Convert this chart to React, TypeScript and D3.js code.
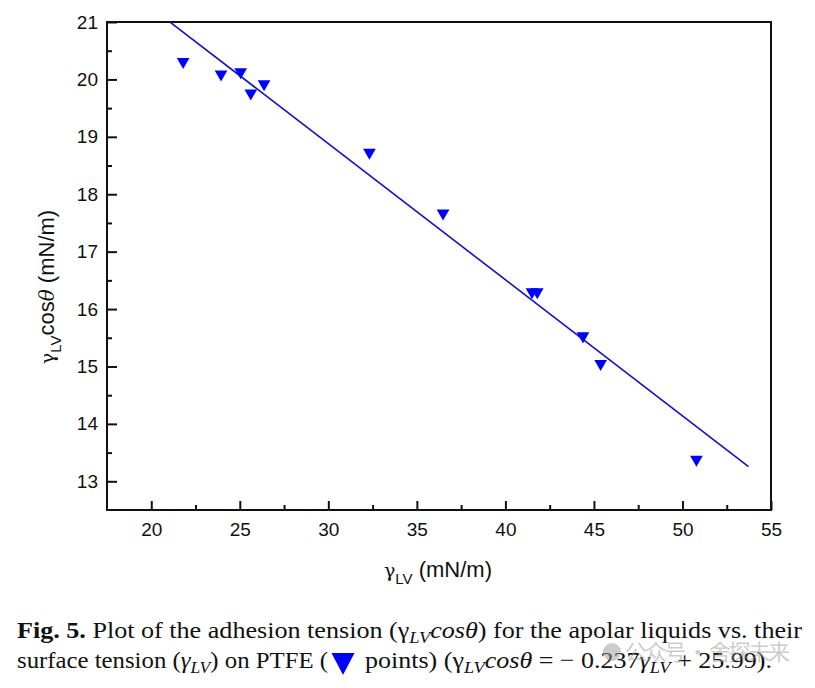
import { useEffect, useRef } from 'react';
import * as d3 from 'd3';

// surface tension of the apolar liquids (mN/m) and adhesion tension on PTFE
const gammaLV = [21.8, 23.94, 25.05, 25.62, 26.37, 32.32, 36.48, 41.5, 41.8, 44.38, 45.38, 50.79];
const adhesion = [20.31, 20.09, 20.13, 19.76, 19.92, 18.73, 17.67, 16.3, 16.3, 15.53, 15.05, 13.38];

// linear fit given in the caption
const fitSlope = -0.237;
const fitIntercept = 25.99;
const fitRange = [21.06, 53.73];

const xTicks = [20, 25, 30, 35, 40, 45, 50, 55];
const xMinorTicks = [22.5, 27.5, 32.5, 37.5, 42.5, 47.5, 52.5];
const yTicks = [13, 14, 15, 16, 17, 18, 19, 20, 21];
const yMinorTicks = [13.5, 14.5, 15.5, 16.5, 17.5, 18.5, 19.5, 20.5];

export default function App() {
  const svgRef = useRef<SVGSVGElement>(null);
  const width = 815;
  const height = 688;

  useEffect(() => {
    if (!svgRef.current) return;
    const svg = d3.select(svgRef.current);
    svg.selectAll('*').remove();

    const left = 107, right = 771, top = 22, bottom = 510;
    const axisFont = 'Liberation Sans, Arial, sans-serif';

    const x = d3.scaleLinear().domain([17.5, 55]).range([left, right]);
    const y = d3.scaleLinear().domain([12.5, 21]).range([bottom, top]);

    svg.append('rect').attr('width', width).attr('height', height).attr('fill', '#fff');

    // minor ticks
    const xMinorAxis = d3.axisBottom(x).tickValues(xMinorTicks).tickSize(-5).tickFormat(() => '');
    svg.append('g').attr('transform', `translate(0,${bottom})`).call(xMinorAxis)
      .call(g => g.select('.domain').remove())
      .selectAll('line').attr('stroke', '#111').attr('stroke-width', 2);

    const yMinorAxis = d3.axisLeft(y).tickValues(yMinorTicks).tickSize(-5).tickFormat(() => '');
    svg.append('g').attr('transform', `translate(${left},0)`).call(yMinorAxis)
      .call(g => g.select('.domain').remove())
      .selectAll('line').attr('stroke', '#111').attr('stroke-width', 2);

    // major ticks + labels
    const xAxis = d3.axisBottom(x).tickValues(xTicks).tickSize(-9).tickPadding(13).tickFormat(d => `${d}`);
    const gx = svg.append('g').attr('transform', `translate(0,${bottom})`).call(xAxis);
    gx.select('.domain').remove();
    gx.selectAll('line').attr('stroke', '#111').attr('stroke-width', 2);
    gx.selectAll('text').attr('font-family', axisFont).attr('font-size', 19).attr('fill', '#111');

    const yAxis = d3.axisLeft(y).tickValues(yTicks).tickSize(-10).tickPadding(9).tickFormat(d => `${d}`);
    const gy = svg.append('g').attr('transform', `translate(${left},0)`).call(yAxis);
    gy.select('.domain').remove();
    gy.selectAll('line').attr('stroke', '#111').attr('stroke-width', 2);
    gy.selectAll('text').attr('font-family', axisFont).attr('font-size', 19).attr('fill', '#111');

    // frame
    svg.append('rect')
      .attr('x', left).attr('y', top)
      .attr('width', right - left).attr('height', bottom - top)
      .attr('fill', 'none').attr('stroke', '#111').attr('stroke-width', 2);

    // fit line
    const fitData = fitRange.map(v => [v, fitSlope * v + fitIntercept] as [number, number]);
    svg.append('path')
      .datum(fitData)
      .attr('fill', 'none')
      .attr('stroke', '#1010d0')
      .attr('stroke-width', 1.6)
      .attr('d', d3.line<[number, number]>().x(d => x(d[0])).y(d => y(d[1])));

    // markers
    const tri = d3.symbol().type(d3.symbolTriangle).size(70);
    svg.append('g')
      .selectAll('path')
      .data(gammaLV.map((g, i) => [g, adhesion[i]]))
      .join('path')
      .attr('d', tri)
      .attr('transform', d => `translate(${x(d[0])},${y(d[1])}) rotate(180)`)
      .attr('fill', '#0000ff');

    // axis titles
    const xt = svg.append('text')
      .attr('x', 438).attr('y', 577)
      .attr('text-anchor', 'middle')
      .attr('font-family', axisFont).attr('font-size', 22).attr('fill', '#111');
    xt.append('tspan').attr('font-family', 'DejaVu Serif, serif').attr('font-size', 19).text('γ');
    xt.append('tspan').attr('font-size', 15).attr('dy', 7).text('LV');
    xt.append('tspan').attr('dy', -7).text(' (mN/m)');

    const yt = svg.append('text')
      .attr('transform', 'translate(54,287) rotate(-90)')
      .attr('text-anchor', 'middle')
      .attr('font-family', axisFont).attr('font-size', 22).attr('fill', '#111');
    yt.append('tspan').attr('font-family', 'DejaVu Serif, serif').attr('font-size', 19).text('γ');
    yt.append('tspan').attr('font-size', 15).attr('dy', 7).text('LV');
    yt.append('tspan').attr('dy', -7).text('cos');
    yt.append('tspan').attr('font-family', 'DejaVu Serif, serif').attr('font-style', 'italic').attr('font-size', 20).text('θ');
    yt.append('tspan').text(' (mN/m)');

    // caption
    const capFont = 'Liberation Serif, Times New Roman, serif';
    const cap = svg.append('g')
      .attr('font-family', capFont).attr('font-size', 24).attr('fill', '#111');

    const l1 = cap.append('text')
      .attr('x', 17).attr('y', 638)
      .attr('textLength', 785).attr('lengthAdjust', 'spacingAndGlyphs');
    l1.append('tspan').attr('font-weight', 'bold').text('Fig. 5.');
    l1.append('tspan').text(' Plot of the adhesion tension (γ');
    l1.append('tspan').attr('font-style', 'italic').attr('font-size', 17).attr('dy', 5).text('LV');
    l1.append('tspan').attr('font-style', 'italic').attr('dy', -5).text('cosθ');
    l1.append('tspan').text(') for the apolar liquids vs. their');

    const l2a = cap.append('text')
      .attr('x', 17).attr('y', 668)
      .attr('textLength', 311).attr('lengthAdjust', 'spacingAndGlyphs');
    l2a.append('tspan').text('surface tension (');
    l2a.append('tspan').attr('font-style', 'italic').text('γ');
    l2a.append('tspan').attr('font-style', 'italic').attr('font-size', 17).attr('dy', 5).text('LV');
    l2a.append('tspan').attr('dy', -5).text(') on PTFE (');

    const l2b = cap.append('text')
      .attr('x', 365).attr('y', 668)
      .attr('textLength', 407).attr('lengthAdjust', 'spacingAndGlyphs');
    l2b.append('tspan').text('points) (γ');
    l2b.append('tspan').attr('font-style', 'italic').attr('font-size', 17).attr('dy', 5).text('LV');
    l2b.append('tspan').attr('font-style', 'italic').attr('dy', -5).text('cosθ');
    l2b.append('tspan').text(' = − 0.237');
    l2b.append('tspan').attr('font-style', 'italic').text('γ');
    l2b.append('tspan').attr('font-style', 'italic').attr('font-size', 17).attr('dy', 5).text('LV');
    l2b.append('tspan').attr('dy', -5).text(' + 25.99).');

    // blue triangle inside caption
    svg.append('path')
      .attr('d', 'M-11.5,-11L11.5,-11L0,11Z')
      .attr('transform', 'translate(343,664)')
      .attr('fill', '#0000ff');

    // watermark
    svg.append('circle')
      .attr('cx', 612).attr('cy', 652).attr('r', 9)
      .attr('fill', '#9a9a9a').attr('opacity', 0.5);
    svg.append('text')
      .attr('x', 625).attr('y', 660)
      .attr('font-family', 'Noto Sans CJK SC, sans-serif').attr('font-size', 22)
      .attr('fill', '#9a9a9a').attr('opacity', 0.5)
      .attr('textLength', 165).attr('lengthAdjust', 'spacing')
      .text('公众号 · 舍探未来');
  }, []);

  return (
    <svg
      ref={svgRef}
      width={width}
      height={height}
      style={{ position: 'absolute', left: 0, top: 0 }}
    />
  );
}
